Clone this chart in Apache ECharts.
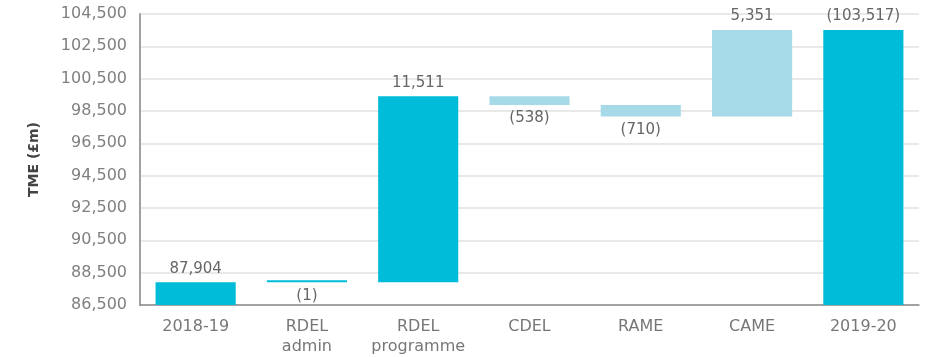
<!DOCTYPE html>
<html>
<head>
<meta charset="utf-8">
<script src="https://cdn.jsdelivr.net/npm/echarts@6/dist/echarts.min.js"></script>
<style>
  html, body { margin: 0; padding: 0; background: #fff; }
  #chart { width: 925px; height: 357px; }
</style>
</head>
<body>
<div id="chart"></div>
<script>
// Total managed expenditure bridge, 2018-19 to 2019-20 (£m)
const categories = ['2018-19', 'RDEL\nadmin', 'RDEL\nprogramme', 'CDEL', 'RAME', 'CAME', '2019-20'];
const openingTotal = 87904;
const changes = [-1, 11511, -538, -710, 5351];   // RDEL admin .. CAME
const closingTotal = 103517;
const valueLabels = ['87,904', '(1)', '11,511', '(538)', '(710)', '5,351', '(103,517)'];
const yTicks = [86500, 88500, 90500, 92500, 94500, 96500, 98500, 100500, 102500, 104500];

const DARK = '#00bcd8';
const LIGHT = '#a7dae8';
const barColors = [DARK, DARK, DARK, LIGHT, LIGHT, LIGHT, DARK];

// Values are plotted relative to the axis floor so ticks start at the first label
const floor = yTicks[0];
const step = yTicks[1] - yTicks[0];

const base = [];
const height = [];
const labelPos = [];
base.push(0);
height.push(openingTotal - floor);
labelPos.push('top');
let running = openingTotal;
changes.forEach(c => {
  const next = running + c;
  base.push(Math.min(running, next) - floor);
  height.push(Math.abs(c));
  labelPos.push(c < 0 ? 'bottom' : 'top');
  running = next;
});
base.push(0);
height.push(closingTotal - floor);
labelPos.push('top');

const fmt = v => Math.round(v).toString().replace(/\B(?=(\d{3})+(?!\d))/g, ',');
const FONT = 'DejaVu Sans';

const chart = echarts.init(document.getElementById('chart'), null, { renderer: 'canvas' });
chart.setOption({
  animation: false,
  backgroundColor: '#fff',
  grid: { left: 140, right: 6, top: 14, bottom: 52, containLabel: false },
  xAxis: {
    type: 'category',
    data: categories,
    axisLine: { lineStyle: { color: '#8a8a8a', width: 1.5 } },
    axisTick: { show: false },
    axisLabel: {
      interval: 0,
      color: '#777', fontFamily: FONT, fontSize: 16, margin: 12, lineHeight: 20
    }
  },
  yAxis: {
    type: 'value',
    min: 0,
    max: yTicks[yTicks.length - 1] - floor,
    interval: step,
    name: 'TME (£m)',
    nameLocation: 'middle',
    nameRotate: 90,
    nameGap: 99,
    nameTextStyle: { color: '#444', fontFamily: FONT, fontSize: 14, fontWeight: 'bold' },
    axisLine: { show: true, lineStyle: { color: '#a0a0a0', width: 2 } },
    axisTick: { show: false },
    axisLabel: {
      color: '#808080', fontFamily: FONT, fontSize: 16, margin: 13,
      formatter: v => fmt(v + floor)
    },
    splitLine: { lineStyle: { color: '#e2e2e2', width: 1.5 } }
  },
  series: [
    {
      type: 'bar',
      stack: 'bridge',
      data: base,
      barWidth: '72%',
      itemStyle: { color: 'transparent' },
      emphasis: { disabled: true },
      silent: true
    },
    {
      type: 'bar',
      stack: 'bridge',
      barWidth: '72%',
      barMinHeight: 2,
      data: height.map((h, i) => ({
        value: h,
        itemStyle: { color: barColors[i] },
        label: { position: labelPos[i] }
      })),
      label: {
        show: true,
        distance: 6,
        color: '#666',
        fontFamily: FONT,
        fontSize: 15,
        formatter: p => valueLabels[p.dataIndex]
      }
    }
  ]
});
</script>
</body>
</html>
